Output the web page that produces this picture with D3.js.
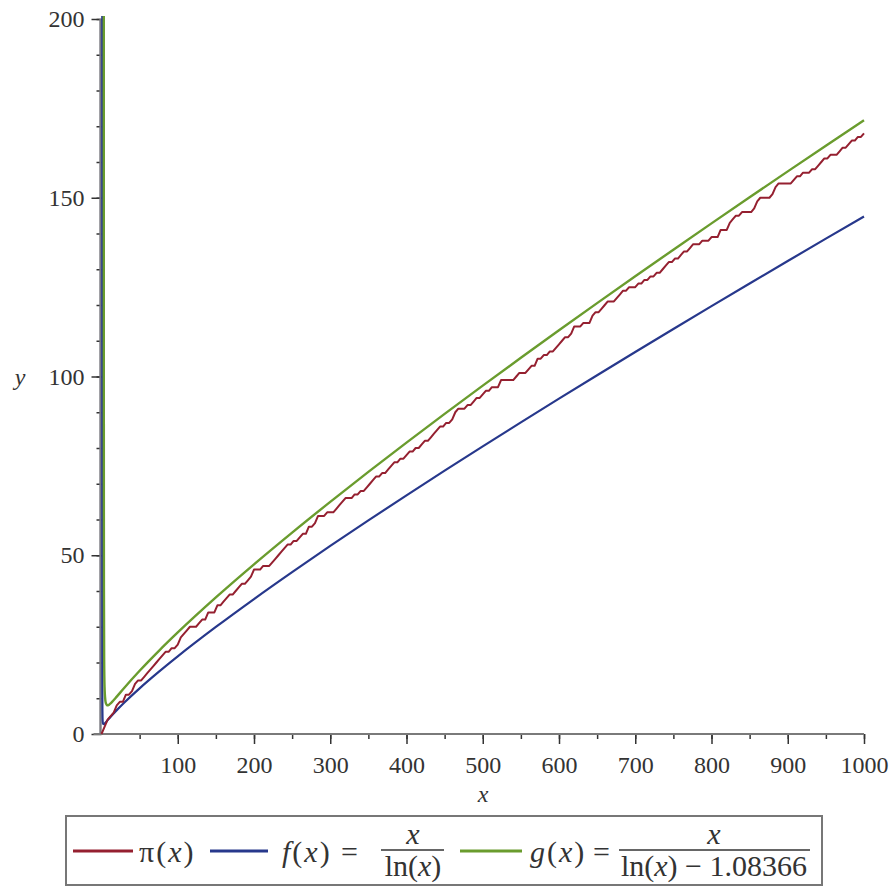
<!DOCTYPE html>
<html><head><meta charset="utf-8">
<script src="https://cdn.jsdelivr.net/npm/d3@7"></script>
<style>
html,body{margin:0;padding:0;background:#fff;}
svg text{font-family:"Liberation Serif","Times New Roman",serif;fill:#333;}
</style></head>
<body>
<svg id="chart" width="894" height="888"></svg>
<script>
// ---- data ----
const primes = [2,3,5,7,11,13,17,19,23,29,31,37,41,43,47,53,59,61,67,71,73,79,83,89,97,
101,103,107,109,113,127,131,137,139,149,151,157,163,167,173,179,181,191,193,197,199,
211,223,227,229,233,239,241,251,257,263,269,271,277,281,283,293,
307,311,313,317,331,337,347,349,353,359,367,373,379,383,389,397,
401,409,419,421,431,433,439,443,449,457,461,463,467,479,487,491,499,
503,509,521,523,541,547,557,563,569,571,577,587,593,599,
601,607,613,617,619,631,641,643,647,653,659,661,673,677,683,691,
701,709,719,727,733,739,743,751,757,761,769,773,787,797,
809,811,821,823,827,829,839,853,857,859,863,877,881,883,887,
907,911,919,929,937,941,947,953,967,971,977,983,991,997];
const fX = [1.005,1.01,1.02,1.05,1.1,1.2,1.5,2,3,5,7,10,15,20,30,50,75,100,150,200,250,300,350,400,450,500,550,600,650,700,750,800,850,900,950,1000];
const fY = [201.50,101.50,51.51,21.52,11.54,6.582,3.700,2.885,2.731,3.107,3.597,4.343,5.539,6.676,8.820,12.781,17.371,21.715,29.936,37.748,45.278,52.597,59.748,66.762,73.659,80.456,87.165,93.795,100.355,106.853,113.292,119.678,126.015,132.306,138.555,144.765];
const gX = [2.99,3.0,3.05,3.1,3.2,3.5,4,5,6,7,8,9,10,12,15,20,30,50,75,100,150,200,250,300,350,400,450,500,550,600,650,700,750,800,850,900,950,1000];
const gY = [257.5,200.64,96.88,64.93,40.26,20.70,13.217,9.510,8.473,8.118,8.034,8.082,8.204,8.564,9.234,10.460,12.945,17.678,23.192,28.397,38.197,47.453,56.334,64.933,73.310,81.503,89.541,97.448,105.238,112.924,120.520,128.031,135.466,142.833,150.135,157.378,164.564,171.700];
const xTicks = [100,200,300,400,500,600,700,800,900,1000];
const yTicks = [0,50,100,150,200];
const colors = {pi:"#952030", f:"#27388c", g:"#6a9c2e"};

// ---- layout ----
const svg = d3.select("#chart");
const x = d3.scaleLinear().domain([0,1000]).range([101.5,864]);
const y = d3.scaleLinear().domain([0,200]).range([734,19]);

svg.append("defs").append("clipPath").attr("id","clip")
  .append("rect").attr("x",x(0)-2).attr("y",16).attr("width",x(1000)-x(0)+6).attr("height",y(0)-16+1);

// axes
const gx = svg.append("g").attr("transform",`translate(0,${y(0)})`);
gx.call(d3.axisBottom(x).tickValues(d3.range(50,1001,50)).tickSize(5).tickFormat(""));
gx.selectAll(".tick line").attr("stroke","#333").attr("stroke-width",1.5);
gx.select(".domain").remove();
const gx2 = svg.append("g").attr("transform",`translate(0,${y(0)})`);
gx2.call(d3.axisBottom(x).tickValues(xTicks).tickSize(10).tickPadding(12).tickFormat(d3.format("d")));
gx2.select(".domain").remove();
gx2.selectAll(".tick line").attr("stroke","#333").attr("stroke-width",1.5);
gx2.selectAll(".tick text").attr("font-size",24);

const gy = svg.append("g").attr("transform",`translate(${x(0)},0)`);
gy.call(d3.axisLeft(y).tickValues(d3.range(10,201,10)).tickSize(5).tickFormat(""));
gy.select(".domain").remove();
gy.selectAll(".tick line").attr("stroke","#333").attr("stroke-width",1.5);
const gy2 = svg.append("g").attr("transform",`translate(${x(0)},0)`);
gy2.call(d3.axisLeft(y).tickValues(yTicks).tickSize(10).tickPadding(7).tickFormat(d3.format("d")));
gy2.select(".domain").remove();
gy2.selectAll(".tick line").attr("stroke","#333").attr("stroke-width",1.5);
gy2.selectAll(".tick text").attr("font-size",24);

svg.append("line").attr("x1",x(0)-8).attr("x2",x(1000)).attr("y1",y(0)).attr("y2",y(0))
  .attr("stroke","#7a7a7a").attr("stroke-width",2.2);
svg.append("line").attr("x1",x(0)-1).attr("x2",x(0)-1).attr("y1",y(0)).attr("y2",y(200))
  .attr("stroke","#7a7a80").attr("stroke-width",2.4);

svg.append("text").attr("x",20).attr("y",y(100)+8).attr("font-size",24).attr("font-style","italic").attr("text-anchor","middle").text("y");
svg.append("text").attr("x",483).attr("y",802).attr("font-size",24).attr("font-style","italic").attr("text-anchor","middle").text("x");

// curves
const plot = svg.append("g").attr("clip-path","url(#clip)");
const lineF = d3.line().x(d=>x(d[0])).y(d=>y(d[1])).curve(d3.curveMonotoneX);
plot.append("path").datum(fX.map((v,i)=>[v,fY[i]])).attr("d",lineF)
  .attr("fill","none").attr("stroke",colors.f).attr("stroke-width",2.2);
// pi(x): count of primes, sampled like the plotting routine and joined linearly
const piPts = d3.range(0,1000.1,4).map(v=>[v, d3.bisectRight(primes, v)]);
plot.append("path").datum(piPts).attr("d",d3.line().x(d=>x(d[0])).y(d=>y(d[1])))
  .attr("fill","none").attr("stroke",colors.pi).attr("stroke-width",2).attr("stroke-linejoin","round");
plot.append("path").datum(gX.map((v,i)=>[v,gY[i]])).attr("d",lineF)
  .attr("fill","none").attr("stroke",colors.g).attr("stroke-width",2.4);

// legend
const lg = svg.append("g");
lg.append("rect").attr("x",66).attr("y",816).attr("width",756).attr("height",69)
  .attr("fill","#fff").attr("stroke","#777").attr("stroke-width",2);
const ly = 851;
function sw(x1,x2,c){lg.append("line").attr("x1",x1).attr("x2",x2).attr("y1",ly).attr("y2",ly).attr("stroke",c).attr("stroke-width",3);}
sw(73,133,colors.pi); sw(210,268,colors.f); sw(460,522,colors.g);
const fs = 30;
function fn(xp, name, nameItalic){
  const t = lg.append("text").attr("x",xp).attr("y",862).attr("font-size",fs);
  t.append("tspan").attr("font-style",nameItalic?"italic":"normal").text(name);
  t.append("tspan").attr("dx",2).text("(");
  t.append("tspan").attr("font-style","italic").attr("dx",2).text("x");
  t.append("tspan").attr("dx",2).text(")");
  return t;
}
fn(139,"π",false);
fn(282,"f",true);
lg.append("text").attr("x",341).attr("y",862).attr("font-size",fs).text("=");
lg.append("line").attr("x1",381).attr("x2",444).attr("y1",850).attr("y2",850).attr("stroke","#333").attr("stroke-width",1.3);
lg.append("text").attr("x",413).attr("y",844).attr("font-size",fs).attr("font-style","italic").attr("text-anchor","middle").text("x");
let t = lg.append("text").attr("x",413).attr("y",876).attr("font-size",fs).attr("text-anchor","middle");
t.append("tspan").text("ln(");
t.append("tspan").attr("font-style","italic").text("x");
t.append("tspan").text(")");
fn(530,"g",true);
lg.append("text").attr("x",593).attr("y",862).attr("font-size",fs).text("=");
lg.append("line").attr("x1",619).attr("x2",810).attr("y1",850).attr("y2",850).attr("stroke","#333").attr("stroke-width",1.3);
lg.append("text").attr("x",714).attr("y",844).attr("font-size",fs).attr("font-style","italic").attr("text-anchor","middle").text("x");
t = lg.append("text").attr("x",714).attr("y",876).attr("font-size",fs).attr("text-anchor","middle");
t.append("tspan").text("ln(");
t.append("tspan").attr("font-style","italic").text("x");
t.append("tspan").text(") − 1.08366");
</script>
</body></html>
